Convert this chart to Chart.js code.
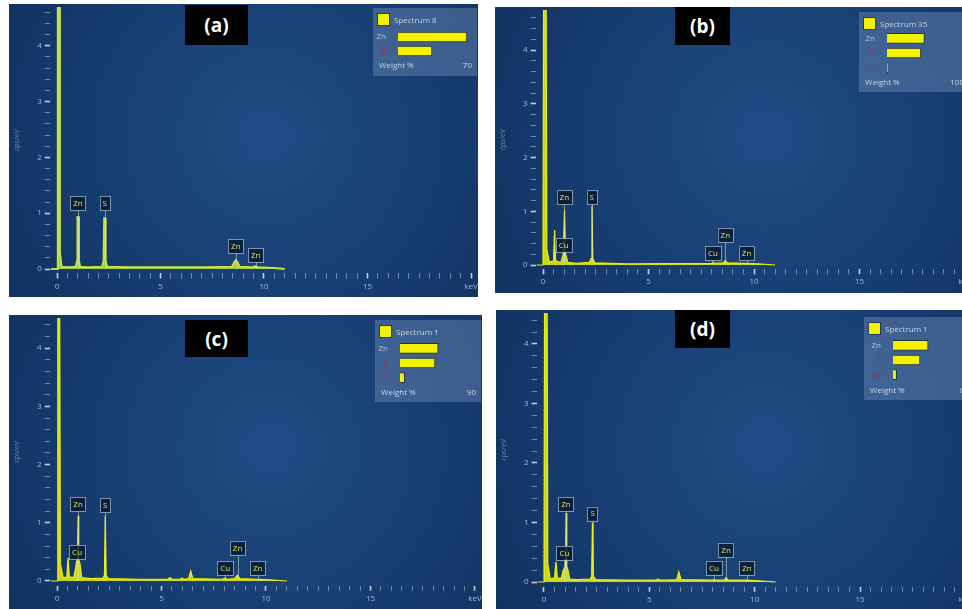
<!DOCTYPE html>
<html>
<head>
<meta charset="utf-8">
<script src="https://cdn.jsdelivr.net/npm/chart.js@4.4.1/dist/chart.umd.min.js"></script>
<style>
  html, body { margin: 0; padding: 0; background: #fff; width: 962px; height: 609px; overflow: hidden; position: relative; }
  .panel { position: absolute; overflow: hidden; }
  .tag { position: absolute; background: #000; color: #fff; font: bold 19px "Open Sans", sans-serif; display: flex; align-items: center; justify-content: center; }
  .legend { position: absolute; background: rgba(120, 150, 192, 0.4); font-family: "Open Sans", sans-serif; color: #c9d4e4; font-size: 8px; }
  .legend .sq { position: absolute; left: 5px; width: 11px; height: 11px; background: #f2f200; box-shadow: 0 0 0 1px rgba(0,0,0,0.4); }
  .legend .ttl { position: absolute; left: 21px; line-height: 10px; white-space: nowrap; }
  .legend .ft { position: absolute; left: 6px; right: 5px; line-height: 10px; white-space: nowrap; }
  .legend .ft span { float: right; }
  .legend canvas { position: absolute; left: 2px; }
</style>
</head>
<body>
<script>
// Panel captions and legend titles
const panelTags = ["(a)", "(b)", "(c)", "(d)"];
const spectrumTitles = ["Spectrum 8", "Spectrum 35", "Spectrum 1", "Spectrum 1"];

// Spectra: [keV, cps/eV]
const spectrumA = [
  [-0.3, 0], [0, 0], [0.04, 9], [0.1, 9], [0.14, 0.3], [0.22, 0.04], [0.6, 0.03],
  [0.9, 0.04], [0.97, 0.15], [0.99, 0.93], [1.04, 0.93], [1.06, 0.15], [1.12, 0.04],
  [1.5, 0.03], [2.18, 0.04], [2.25, 0.15], [2.28, 0.91], [2.32, 0.91], [2.35, 0.15], [2.42, 0.04],
  [3.5, 0.03], [5, 0.03], [7, 0.03], [8.45, 0.04], [8.58, 0.13], [8.64, 0.16], [8.7, 0.13],
  [8.83, 0.04], [9.45, 0.03], [9.57, 0.05], [9.7, 0.03], [10.5, 0.02], [11, 0]
];
const spectrumB = [
  [-0.3, 0], [0, 0], [0.05, 9], [0.12, 9], [0.18, 0.3], [0.3, 0.05], [0.5, 0.08], [0.55, 0.65],
  [0.6, 0.08], [0.75, 0.06], [0.85, 0.05], [0.96, 0.2], [1.02, 1.02], [1.07, 0.2], [1.18, 0.05],
  [1.6, 0.03], [2.2, 0.05], [2.28, 0.12], [2.32, 1.1], [2.36, 0.12], [2.45, 0.04], [4, 0.02],
  [8.0, 0.03], [8.05, 0.05], [8.1, 0.03], [8.55, 0.04], [8.64, 0.08], [8.73, 0.04],
  [9.57, 0.03], [10.2, 0.02], [11, 0]
];
const spectrumC = [
  [-0.3, 0], [0, 0], [0.04, 9], [0.1, 9], [0.16, 0.3], [0.3, 0.05], [0.47, 0.07], [0.53, 0.4],
  [0.59, 0.07], [0.8, 0.06], [0.88, 0.2], [0.94, 0.34], [0.98, 0.36], [1.01, 1.12], [1.04, 0.36],
  [1.1, 0.3], [1.18, 0.06], [1.6, 0.04], [2.2, 0.05], [2.27, 0.1], [2.31, 1.12], [2.35, 0.1],
  [2.45, 0.04], [4, 0.03], [5.3, 0.03], [5.41, 0.06], [5.5, 0.03], [5.9, 0.03], [5.98, 0.05],
  [6.05, 0.03], [6.3, 0.04], [6.4, 0.17], [6.5, 0.04], [7.9, 0.03], [8.05, 0.05], [8.15, 0.03],
  [8.5, 0.04], [8.63, 0.1], [8.75, 0.04], [9.57, 0.03], [10.2, 0.02], [11, 0]
];
const spectrumD = [
  [-0.3, 0], [0, 0], [0.05, 9], [0.12, 9], [0.18, 0.3], [0.3, 0.05], [0.5, 0.07], [0.57, 0.34],
  [0.63, 0.07], [0.82, 0.06], [0.9, 0.18], [0.97, 0.24], [1.02, 0.26], [1.05, 1.16], [1.08, 0.26],
  [1.14, 0.2], [1.22, 0.05], [1.6, 0.04], [2.2, 0.05], [2.26, 0.1], [2.3, 1.0], [2.34, 0.1],
  [2.45, 0.04], [4, 0.03], [5.3, 0.03], [5.41, 0.05], [5.5, 0.03], [5.95, 0.03], [6.0, 0.04],
  [6.05, 0.03], [6.3, 0.04], [6.4, 0.17], [6.5, 0.04], [8.0, 0.03], [8.05, 0.04], [8.1, 0.03],
  [8.55, 0.03], [8.64, 0.07], [8.73, 0.03], [9.57, 0.03], [10.2, 0.02], [11, 0]
];

// Peak labels: element, keV, label height (cps/eV)
const peakElementsA = ["Zn", "S", "Zn", "Zn"];
const peakKeVA = [1.01, 2.31, 8.64, 9.6];
const peakLabelYA = [1.18, 1.18, 0.41, 0.25];
const peakElementsB = ["Zn", "Cu", "S", "Cu", "Zn", "Zn"];
const peakKeVB = [1.01, 0.98, 2.31, 8.05, 8.64, 9.65];
const peakLabelYB = [1.26, 0.37, 1.26, 0.22, 0.56, 0.22];
const peakElementsC = ["Zn", "Cu", "S", "Cu", "Zn", "Zn"];
const peakKeVC = [1.01, 0.96, 2.31, 8.05, 8.64, 9.6];
const peakLabelYC = [1.32, 0.5, 1.3, 0.22, 0.57, 0.22];
const peakElementsD = ["Zn", "Cu", "S", "Cu", "Zn", "Zn"];
const peakKeVD = [1.04, 0.97, 2.31, 8.07, 8.64, 9.63];
const peakLabelYD = [1.31, 0.49, 1.15, 0.24, 0.54, 0.24];

// Weight % legends
const weightElementsA = ["Zn", "S"];
const weightsA = [67, 33];
const weightElementsB = ["Zn", "S", "Cu"];
const weightsB = [52, 47, 1];
const weightElementsC = ["Zn", "S", "Cu"];
const weightsC = [49, 45, 6];
const weightElementsD = ["Zn", "S", "Cu"];
const weightsD = [39, 30, 4];
const weightScaleMax = [70, 100, 90, 80];

// Axis ticks
const xLabelTicks = [0, 5, 10, 15, 20];
const xTickStep = 0.5;
const yLabelTicks = [0, 1, 2, 3, 4];
const yTickStep = 0.2;

// Layout of the four panels (page pixels)
const panels = [
  { box: { left: 9, top: 4, w: 469, h: 293 }, x0: 57, y0: 269, ppk: 20.7, ppu: 55.8,
    tag: [185, 5, 63, 40], legend: [373, 8, 104, 68], rowTop: 22, rowH: 14, barStart: 25, barPx: 72, footY: 52,
    line: "#c3e24a", fill: "rgba(190,226,70,0.85)", lw: 2 },
  { box: { left: 495, top: 7, w: 490, h: 286 }, x0: 543, y0: 265, ppk: 21.1, ppu: 53.75,
    tag: [675, 7, 55, 38], legend: [859, 12, 110, 80], rowTop: 19, rowH: 14.5, barStart: 28, barPx: 72, footY: 65,
    line: "#eef20a", fill: "rgba(238,242,10,0.85)", lw: 1.2 },
  { box: { left: 9, top: 315, w: 473, h: 294 }, x0: 57, y0: 581, ppk: 20.9, ppu: 58.2,
    tag: [185, 320, 63, 37], legend: [375, 320, 106, 82], rowTop: 21, rowH: 14.5, barStart: 25, barPx: 70, footY: 67,
    line: "#eef20a", fill: "rgba(238,242,10,0.85)", lw: 1.2 },
  { box: { left: 496, top: 310, w: 490, h: 299 }, x0: 544, y0: 582, ppk: 21.07, ppu: 59.5,
    tag: [675, 310, 55, 38], legend: [864, 317, 110, 83], rowTop: 21, rowH: 14.5, barStart: 29, barPx: 72, footY: 68,
    line: "#eef20a", fill: "rgba(238,242,10,0.85)", lw: 1.2 }
];

const spectra = [spectrumA, spectrumB, spectrumC, spectrumD];
const peakLabels = [
  [peakElementsA, peakKeVA, peakLabelYA],
  [peakElementsB, peakKeVB, peakLabelYB],
  [peakElementsC, peakKeVC, peakLabelYC],
  [peakElementsD, peakKeVD, peakLabelYD]
];
const weightTables = [
  [weightElementsA, weightsA],
  [weightElementsB, weightsB],
  [weightElementsC, weightsC],
  [weightElementsD, weightsD]
];

const X_MIN = -0.35, X_MAX = 20.2, Y_MIN = -0.08;

// Dark blue instrument background
const backgroundPlugin = {
  id: "bg",
  beforeDraw(chart) {
    const { ctx, width, height } = chart;
    const g = ctx.createRadialGradient(width * 0.55, height * 0.45, 10, width * 0.55, height * 0.45, width * 0.75);
    g.addColorStop(0, "#1f4c85");
    g.addColorStop(1, "#0f2d5b");
    ctx.save();
    ctx.fillStyle = g;
    ctx.fillRect(0, 0, width, height);
    ctx.restore();
  }
};

// Element markers above peaks
const peakLabelPlugin = {
  id: "peakLabels",
  afterDatasetsDraw(chart, args, opts) {
    const [els, kev, ly] = opts.labels;
    const { ctx, scales: { x, y } } = chart;
    ctx.save();
    ctx.font = "8px 'Open Sans', sans-serif";
    ctx.strokeStyle = "rgba(215,225,190,0.55)";
    ctx.lineWidth = 1;
    els.forEach((el, i) => {
      const px = Math.round(x.getPixelForValue(kev[i])) + 0.5;
      ctx.beginPath();
      ctx.moveTo(px, y.getPixelForValue(ly[i]) + 7);
      ctx.lineTo(px, y.getPixelForValue(0));
      ctx.stroke();
    });
    els.forEach((el, i) => {
      const px = x.getPixelForValue(kev[i]);
      const py = y.getPixelForValue(ly[i]);
      const w = ctx.measureText(el).width + 6;
      ctx.fillStyle = "rgba(8,26,52,0.85)";
      ctx.fillRect(px - w / 2, py - 7, w, 14);
      ctx.strokeStyle = "rgba(165,185,205,0.75)";
      ctx.strokeRect(Math.round(px - w / 2) + 0.5, Math.round(py - 7) + 0.5, Math.round(w), 14);
      ctx.fillStyle = "#d6ec58";
      ctx.textAlign = "center";
      ctx.textBaseline = "middle";
      ctx.fillText(el, px, py + 0.5);
    });
    ctx.restore();
  }
};

function stepTicks(min, max, step) {
  const out = [];
  for (let v = min; v <= max + 1e-9; v += step) out.push(Math.round(v * 10) / 10);
  return out;
}

function renderSpectrum(p, idx) {
  const b = p.box;
  const div = document.createElement("div");
  div.className = "panel";
  Object.assign(div.style, { left: b.left + "px", top: b.top + "px", width: b.w + "px", height: b.h + "px" });
  const canvas = document.createElement("canvas");
  canvas.width = b.w;
  canvas.height = b.h;
  div.appendChild(canvas);
  document.body.appendChild(div);

  const chartLeft = p.x0 + X_MIN * p.ppk - b.left;
  const chartRight = p.x0 + X_MAX * p.ppk - b.left;
  const chartTop = 3;
  const chartBottom = p.y0 - Y_MIN * p.ppu - b.top;
  const yMax = (p.y0 - (b.top + chartTop)) / p.ppu;

  const tickFont = { family: "'Open Sans', sans-serif", size: 8 };
  const tickLabel = "rgba(200,212,230,0.8)";

  new Chart(canvas.getContext("2d"), {
    type: "line",
    data: {
      datasets: [{
        data: spectra[idx].map(d => ({ x: d[0], y: d[1] })),
        borderColor: p.line,
        backgroundColor: p.fill,
        borderWidth: p.lw,
        pointRadius: 0,
        tension: 0,
        fill: "origin"
      }]
    },
    options: {
      responsive: false,
      animation: false,
      events: [],
      layout: { padding: { top: chartTop, right: b.w - chartRight, bottom: 0, left: 0 } },
      plugins: { legend: { display: false }, tooltip: { enabled: false }, peakLabels: { labels: peakLabels[idx] } },
      scales: {
        x: {
          type: "linear",
          min: X_MIN,
          max: X_MAX,
          afterBuildTicks: s => { s.ticks = stepTicks(0, 20, xTickStep).map(v => ({ value: v })); },
          afterFit: s => { s.height = b.h - chartBottom; s.paddingLeft = 0; s.paddingRight = 0; },
          border: { display: false },
          grid: {
            drawOnChartArea: false,
            tickLength: 5,
            tickColor: c => (c.tick && xLabelTicks.includes(c.tick.value)) ? "rgba(215,225,238,0.9)" : "rgba(175,192,215,0.6)",
            tickWidth: c => (c.tick && xLabelTicks.includes(c.tick.value)) ? 1.6 : 1
          },
          ticks: {
            autoSkip: false,
            maxRotation: 0,
            padding: 3,
            color: tickLabel,
            font: tickFont,
            callback: v => v === 20 ? "keV" : (xLabelTicks.includes(v) ? String(v) : "")
          }
        },
        y: {
          type: "linear",
          min: Y_MIN,
          max: yMax,
          afterBuildTicks: s => { s.ticks = stepTicks(0, yMax, yTickStep).map(v => ({ value: v })); },
          afterFit: s => { s.width = chartLeft; s.paddingTop = 0; s.paddingBottom = 0; },
          border: { display: false },
          grid: {
            drawOnChartArea: false,
            tickLength: 5,
            tickColor: c => (c.tick && yLabelTicks.includes(c.tick.value)) ? "rgba(215,225,238,0.9)" : "rgba(175,192,215,0.6)",
            tickWidth: c => (c.tick && yLabelTicks.includes(c.tick.value)) ? 1.6 : 1
          },
          ticks: {
            autoSkip: false,
            padding: 3,
            color: tickLabel,
            font: tickFont,
            callback: v => yLabelTicks.includes(v) ? String(v) : ""
          },
          title: {
            display: true,
            text: "cps/eV",
            color: "rgba(170,185,210,0.6)",
            font: { family: "'Open Sans', sans-serif", size: 7 },
            padding: { top: 4, bottom: 0 }
          }
        }
      }
    },
    plugins: [backgroundPlugin, peakLabelPlugin]
  });
}

// Caption box "(a)" etc.
function renderTag(p, idx) {
  const t = document.createElement("div");
  t.className = "tag";
  const [l, tp, w, h] = p.tag;
  Object.assign(t.style, { left: l + "px", top: tp + "px", width: w + "px", height: h + "px" });
  t.textContent = panelTags[idx];
  document.body.appendChild(t);
}

// Weight % legend with a small bar chart
function renderLegend(p, idx) {
  const [l, tp, w, h] = p.legend;
  const [els, weights] = weightTables[idx];
  const box = document.createElement("div");
  box.className = "legend";
  Object.assign(box.style, { left: l + "px", top: tp + "px", width: w + "px", height: h + "px" });
  box.innerHTML =
    '<div class="sq" style="top:6px"></div>' +
    '<div class="ttl" style="top:7px">' + spectrumTitles[idx] + '</div>' +
    '<div class="ft" style="top:' + p.footY + 'px">Weight %<span>' + weightScaleMax[idx] + '</span></div>';
  const c = document.createElement("canvas");
  c.width = p.barStart - 2 + p.barPx;
  c.height = Math.round(els.length * p.rowH);
  c.style.top = p.rowTop + "px";
  box.appendChild(c);
  document.body.appendChild(box);

  new Chart(c.getContext("2d"), {
    type: "bar",
    data: {
      labels: els,
      datasets: [{
        data: weights,
        backgroundColor: "#f2f200",
        borderColor: "rgba(30,30,20,0.7)",
        borderWidth: 1,
        barThickness: 10
      }]
    },
    options: {
      indexAxis: "y",
      responsive: false,
      animation: false,
      events: [],
      layout: { padding: 0 },
      plugins: { legend: { display: false }, tooltip: { enabled: false } },
      scales: {
        x: { display: false, min: 0, max: weightScaleMax[idx] },
        y: {
          afterFit: s => { s.width = p.barStart - 2; s.paddingTop = 0; s.paddingBottom = 0; },
          border: { display: false },
          grid: { display: false },
          ticks: {
            padding: 4,
            font: { family: "'Open Sans', sans-serif", size: 8 },
            color: ctx => els[ctx.index] === "Zn" ? "rgba(205,212,225,0.85)" : "rgba(165,45,60,0.85)"
          }
        }
      }
    }
  });
}

panels.forEach((p, i) => {
  renderSpectrum(p, i);
  renderTag(p, i);
  renderLegend(p, i);
});
</script>
</body>
</html>
